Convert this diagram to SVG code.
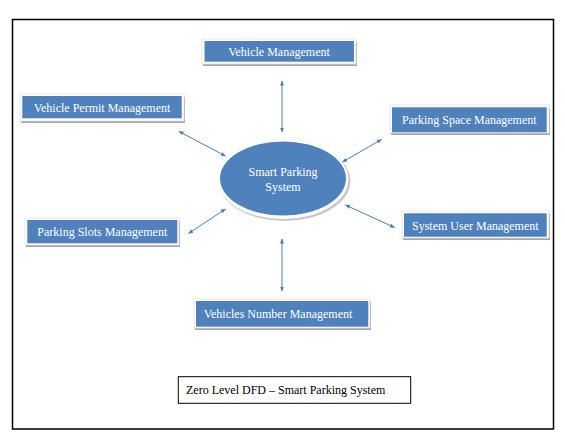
<svg xmlns="http://www.w3.org/2000/svg" width="565" height="441" viewBox="0 0 565 441">
<defs>
<marker id="ah" viewBox="0 0 10 10" refX="9" refY="5" markerWidth="5" markerHeight="5" orient="auto-start-reverse" markerUnits="userSpaceOnUse">
<path d="M0,1 L10,5 L0,9 Z" fill="#4a7ebb"/>
</marker>
</defs>
<style>
.sh{fill:#a6a6a6;}
.wb{fill:#ffffff;stroke:#e0e0e0;stroke-width:0.8;}
.bx{fill:#4f81bd;}
.t{font-family:"Liberation Serif","Times New Roman",serif;font-size:12px;fill:#ffffff;}
.c{stroke:#4a7ebb;stroke-width:1;fill:none;marker-start:url(#ah);marker-end:url(#ah);}
</style>
<rect x="0" y="0" width="565" height="441" fill="#ffffff"/>
<rect x="12.5" y="19.5" width="541" height="409.5" fill="none" stroke="#000000" stroke-width="1.5"/>

<g id="connectors">
<line class="c" x1="282" y1="81" x2="282" y2="132"/>
<line class="c" x1="282" y1="239" x2="282" y2="291"/>
<line class="c" x1="179" y1="131.5" x2="225.5" y2="156"/>
<line class="c" x1="381.5" y1="139.5" x2="342.5" y2="162"/>
<line class="c" x1="345.5" y1="205" x2="394.5" y2="227.5"/>
<line class="c" x1="225.5" y1="209" x2="188.5" y2="233.5"/>
</g>

<g id="center">
<ellipse cx="284.5" cy="181" rx="66" ry="40" fill="#c8c8c8"/>
<ellipse cx="283" cy="179.5" rx="65.5" ry="39.5" fill="#ffffff"/>
<ellipse cx="283" cy="178.5" rx="63" ry="37" fill="#4f81bd"/>
<text class="t" x="283" y="176" text-anchor="middle">Smart Parking</text>
<text class="t" x="283" y="191" text-anchor="middle">System</text>
</g>

<g id="n-vehicle">
<rect class="sh" x="203" y="42" width="154" height="24"/>
<rect class="wb" x="202" y="39" width="154" height="25"/>
<rect class="bx" x="204.5" y="41" width="149.5" height="20.7"/>
<text class="t" x="279" y="55.5" text-anchor="middle">Vehicle Management</text>
</g>

<g id="n-permit">
<rect class="sh" x="21" y="97" width="164" height="26"/>
<rect class="wb" x="20" y="94" width="164" height="27"/>
<rect class="bx" x="22.3" y="96" width="159.4" height="22.3"/>
<text class="t" x="102" y="111.5" text-anchor="middle">Vehicle Permit Management</text>
</g>

<g id="n-space">
<rect class="sh" x="391" y="108" width="159" height="27"/>
<rect class="wb" x="390" y="105" width="159" height="28"/>
<rect class="bx" x="392" y="107.3" width="154.7" height="25"/>
<text class="t" x="469.3" y="124" text-anchor="middle">Parking Space Management</text>
</g>

<g id="n-user">
<rect class="sh" x="403" y="214" width="147" height="26"/>
<rect class="wb" x="402" y="211" width="147" height="27"/>
<rect class="bx" x="404" y="213.3" width="142.7" height="23.4"/>
<text class="t" x="475.3" y="229.5" text-anchor="middle">System User Management</text>
</g>

<g id="n-slots">
<rect class="sh" x="26" y="221" width="154" height="26"/>
<rect class="wb" x="25" y="218" width="154" height="27"/>
<rect class="bx" x="27.3" y="220" width="150" height="23.3"/>
<text class="t" x="102.3" y="236" text-anchor="middle">Parking Slots Management</text>
</g>

<g id="n-number">
<rect class="sh" x="195" y="302" width="176" height="28"/>
<rect class="wb" x="194" y="299" width="176" height="29"/>
<rect class="bx" x="196" y="301" width="172.3" height="25.7"/>
<text class="t" x="278" y="318" text-anchor="middle">Vehicles Number Management</text>
</g>

<g id="caption">
<rect x="178.3" y="376.7" width="232.4" height="26.6" fill="#ffffff" stroke="#000000" stroke-width="1"/>
<text x="186" y="394" font-family="'Liberation Serif','Times New Roman',serif" font-size="12" fill="#000000">Zero Level DFD – Smart Parking System</text>
</g>
</svg>
